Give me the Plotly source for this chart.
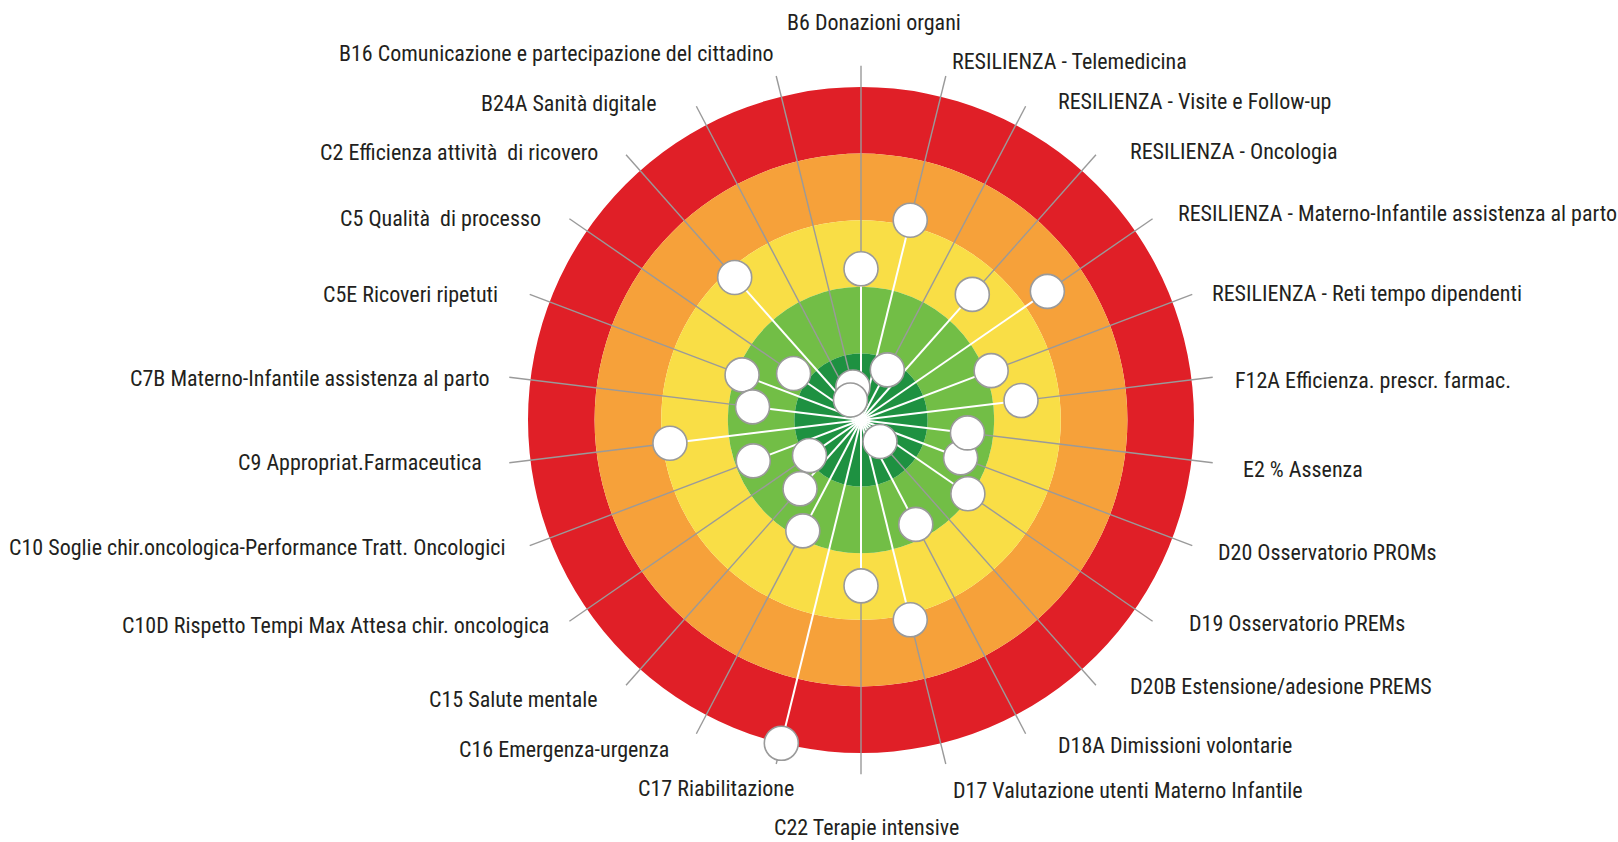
import numpy as np
import plotly.graph_objects as go

# ---------------- data ----------------
labels = [
    "B6 Donazioni organi",
    "RESILIENZA - Telemedicina",
    "RESILIENZA - Visite e Follow-up",
    "RESILIENZA - Oncologia",
    "RESILIENZA - Materno-Infantile assistenza al parto",
    "RESILIENZA - Reti tempo dipendenti",
    "F12A Efficienza. prescr. farmac.",
    "E2 % Assenza",
    "D20 Osservatorio PROMs",
    "D19 Osservatorio PREMs",
    "D20B Estensione/adesione PREMS",
    "D18A Dimissioni volontarie",
    "D17 Valutazione utenti Materno Infantile",
    "C22 Terapie intensive",
    "C17 Riabilitazione",
    "C16 Emergenza-urgenza",
    "C15 Salute mentale",
    "C10D Rispetto Tempi Max Attesa chir. oncologica",
    "C10 Soglie chir.oncologica-Performance Tratt. Oncologici",
    "C9 Appropriat.Farmaceutica",
    "C7B Materno-Infantile assistenza al parto",
    "C5E Ricoveri ripetuti",
    "C5 Qualità  di processo",
    "C2 Efficienza attività  di ricovero",
    "B24A Sanità digitale",
    "B16 Comunicazione e partecipazione del cittadino",
]
# performance score (0 = worst, outer red; 5 = best, centre)
scores = [2.73, 1.91, 4.15, 2.48, 1.60, 2.91, 2.58, 3.39, 3.40, 3.05,
          4.57, 3.23, 1.91, 2.51, 0.00, 3.12, 3.62, 4.06, 3.27, 2.11,
          3.36, 3.09, 3.77, 2.14, 4.66, 4.49]
# evaluation bands (score ranges) and their colours
band_low = [0, 1, 2, 3, 4]
band_high = [1, 2, 3, 4, 5]
band_colors = ["#E01F27", "#F6A13A", "#F9DE46", "#72BE46", "#1E9141"]

# ---------------- layout constants ----------------
W, H = 1618, 842
CX, CY = 861, 420          # centre in px
UNIT = 66.6                # px per score unit
RMAX = 5.6
SPOKE_END = 5.32
RPX = RMAX * UNIT
dom_x = [(CX - RPX) / W, (CX + RPX) / W]
dom_y = [(H - CY - RPX) / H, (H - CY + RPX) / H]
FONT = "Roboto Condensed, DejaVu Sans Condensed, Liberation Sans Narrow, sans-serif"

n = len(labels)
theta = [i * 360.0 / n for i in range(n)]
radius = [5 - s for s in scores]

# label placement: (xanchor, dx px, dy px screen-down)
label_place = [
    ("center", 13, -43), ("left", 4, -14), ("left", 30, -5), ("left", 32, -3),
    ("left", 23, -5), ("left", 18, -1), ("left", 20, 3), ("left", 28, 7),
    ("left", 24, 7), ("left", 34, 2), ("left", 32, 1), ("left", 30, 12),
    ("left", 5, 26), ("center", 5, 53), ("right", 20, 24), ("right", -25, 16),
    ("right", -26, 14), ("right", -18, 4), ("right", -23, 2), ("right", -25, 0),
    ("right", -17, 1), ("right", -30, 0), ("right", -26, 0), ("right", -26, -2),
    ("right", -38, -3), ("right", 0, -22),
]

fig = go.Figure()

# rings
fig.add_trace(go.Barpolar(
    r=[bh - bl for bl, bh in zip(band_low, band_high)],
    base=[5 - bh for bh in band_high],
    theta=[0] * len(band_low),
    width=[360] * len(band_low),
    marker=dict(color=band_colors, line=dict(width=0)),
    hoverinfo="skip", showlegend=False,
))

# spokes: gray from point outward, white from centre to point
gr, gt, wr, wt = [], [], [], []
for t, r in zip(theta, radius):
    gr += [r, SPOKE_END, None]
    gt += [t, t, None]
    wr += [0, r, None]
    wt += [t, t, None]
fig.add_trace(go.Scatterpolar(r=gr, theta=gt, mode="lines",
                              line=dict(color="#9A9A9A", width=1.4),
                              hoverinfo="skip", showlegend=False))
fig.add_trace(go.Scatterpolar(r=wr, theta=wt, mode="lines",
                              line=dict(color="#FFFFFF", width=2),
                              hoverinfo="skip", showlegend=False))
# points (drawn last-first so earlier indicators sit on top)
fig.add_trace(go.Scatterpolar(
    r=radius[::-1], theta=theta[::-1], mode="markers",
    marker=dict(size=34, color="#FFFFFF", line=dict(color="#9A9A9A", width=1.6)),
    text=labels[::-1], hovertemplate="%{text}<extra></extra>", showlegend=False,
))

# labels via overlay cartesian axes matching the polar frame
for lab, t, (anc, dx, dy) in zip(labels, theta, label_place):
    a = np.deg2rad(t)
    fig.add_annotation(
        x=SPOKE_END * np.sin(a), y=SPOKE_END * np.cos(a), xref="x", yref="y",
        text=lab, showarrow=False, xanchor=anc, yanchor="middle",
        xshift=dx, yshift=-dy,
        font=dict(family=FONT, size=22, color="#231F20"),
    )

fig.update_layout(
    width=W, height=H,
    margin=dict(l=0, r=0, t=0, b=0),
    paper_bgcolor="white", plot_bgcolor="rgba(0,0,0,0)",
    showlegend=False,
    polar=dict(
        domain=dict(x=dom_x, y=dom_y),
        bgcolor="rgba(0,0,0,0)",
        radialaxis=dict(visible=False, range=[0, RMAX], showgrid=False),
        angularaxis=dict(visible=False, rotation=90, direction="clockwise",
                         showgrid=False, showline=False, thetaunit="degrees"),
        hole=0,
    ),
    xaxis=dict(domain=dom_x, range=[-RMAX, RMAX], visible=False, fixedrange=True),
    yaxis=dict(domain=dom_y, range=[-RMAX, RMAX], visible=False, fixedrange=True),
)

fig.write_html("out.html", config={"displayModeBar": False},
               post_script="document.body.style.margin='0';")
